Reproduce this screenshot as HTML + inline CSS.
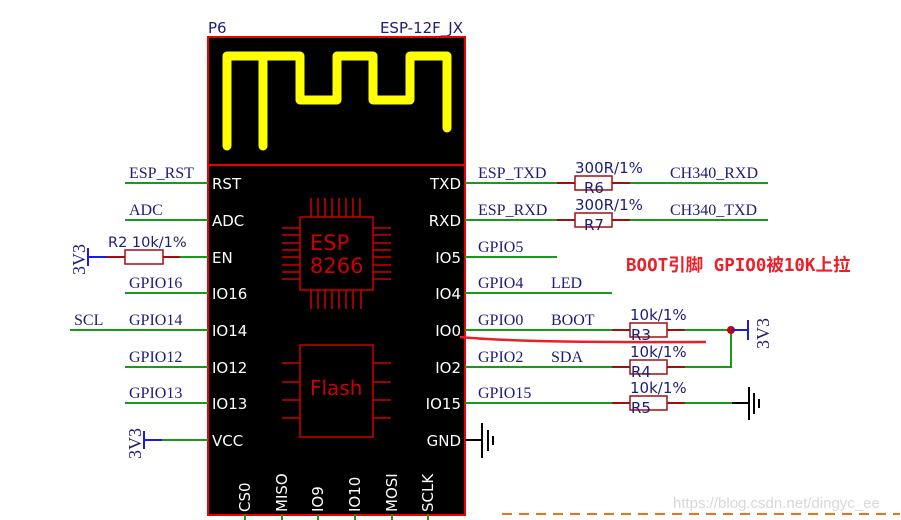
<!DOCTYPE html>
<html><head><meta charset="utf-8"><style>
html,body{margin:0;padding:0;background:#fff;}
svg{display:block;}
.s{font-family:"Liberation Serif",serif;font-size:16px;fill:#1c1c7a;}
.w{font-family:"DejaVu Sans","Liberation Sans",sans-serif;font-size:15px;fill:#fff;}
.b{font-family:"DejaVu Sans","Liberation Sans",sans-serif;font-size:14.5px;fill:#1c1c7a;}
</style></head><body>
<svg width="901" height="520" viewBox="0 0 901 520" xmlns="http://www.w3.org/2000/svg">
<rect width="901" height="520" fill="#fff"/>
<text x="208" y="33" class="b" style="font-size:15px">P6</text>
<text x="463" y="33" class="b" text-anchor="end" style="font-size:15px">ESP-12F_JX</text>
<rect x="208" y="37" width="257" height="478" fill="#000" stroke="#e00" stroke-width="2"/>
<line x1="208" y1="165" x2="465" y2="165" stroke="#e00" stroke-width="2"/>
<path d="M227,146 V56 H300 V100 H337 V56 H373 V100 H410 V56 H447 V128 M263,56 V146" fill="none" stroke="#ff0" stroke-width="9" stroke-linecap="round" stroke-linejoin="round"/>
<g stroke="#c00" stroke-width="1.5" fill="none">
<rect x="300" y="217" width="73" height="73"/>
<path d="M311,198V217M318,198V217M325,198V217M332,198V217M339,198V217M346,198V217M353,198V217M360,198V217
M311,290V309M318,290V309M325,290V309M332,290V309M339,290V309M346,290V309M353,290V309M361,290V309
M282,228H300M282,235H300M282,243H300M282,250H300M282,257H300M282,265H300M282,272H300M282,279H300
M373,228H391M373,235H391M373,243H391M373,250H391M373,257H391M373,265H391M373,272H391M373,279H391"/>
<rect x="300" y="345" width="73" height="92"/>
<path d="M282,363H300M282,382H300M282,400H300M282,418H300M373,363H391M373,382H391M373,400H391M373,418H391"/>
</g>
<text x="310" y="250" font-family="DejaVu Sans,sans-serif" font-size="21" fill="#c00">ESP</text>
<text x="310" y="273" font-family="DejaVu Sans,sans-serif" font-size="21" fill="#c00">8266</text>
<text x="310" y="395" font-family="DejaVu Sans,sans-serif" font-size="20" fill="#c00">Flash</text>
<g stroke="#1a9a1a" stroke-width="2">
<line x1="125" y1="183" x2="208" y2="183"/><line x1="125" y1="220" x2="208" y2="220"/>
<line x1="180" y1="257" x2="208" y2="257"/><line x1="125" y1="293" x2="208" y2="293"/>
<line x1="70" y1="330" x2="208" y2="330"/><line x1="125" y1="367" x2="208" y2="367"/>
<line x1="125" y1="403" x2="208" y2="403"/><line x1="162" y1="440" x2="208" y2="440"/>
</g>
<text x="212" y="189" class="w">RST</text><text x="212" y="226" class="w">ADC</text>
<text x="212" y="263" class="w">EN</text><text x="212" y="299" class="w">IO16</text>
<text x="212" y="336" class="w">IO14</text><text x="212" y="373" class="w">IO12</text>
<text x="212" y="409" class="w">IO13</text><text x="212" y="446" class="w">VCC</text>
<text x="129" y="178" class="s">ESP_RST</text><text x="129" y="215" class="s">ADC</text>
<text x="129" y="288" class="s">GPIO16</text><text x="74" y="325" class="s">SCL</text>
<text x="129" y="325" class="s">GPIO14</text><text x="129" y="362" class="s">GPIO12</text>
<text x="129" y="398" class="s">GPIO13</text>
<path d="M107,257H125M163,257H180" stroke="#a01010" stroke-width="2"/>
<rect x="125" y="250" width="38" height="14" fill="#fff" stroke="#a01010" stroke-width="1.5"/>
<text x="108" y="247" class="b">R2 10k/1%</text>
<path d="M88,257H107M88,248V266" stroke="#1a1aee" stroke-width="2"/>
<text transform="translate(85,275) rotate(-90)" class="s" style="font-size:18px">3V3</text>
<path d="M144,440H162M144,431V449" stroke="#1a1aee" stroke-width="2"/>
<text transform="translate(141,459) rotate(-90)" class="s" style="font-size:18px">3V3</text>
<text x="461" y="189" class="w" text-anchor="end">TXD</text><text x="461" y="226" class="w" text-anchor="end">RXD</text>
<text x="461" y="263" class="w" text-anchor="end">IO5</text><text x="461" y="299" class="w" text-anchor="end">IO4</text>
<text x="461" y="336" class="w" text-anchor="end">IO0</text><text x="461" y="373" class="w" text-anchor="end">IO2</text>
<text x="461" y="409" class="w" text-anchor="end">IO15</text><text x="461" y="446" class="w" text-anchor="end">GND</text>
<g stroke="#1a9a1a" stroke-width="2" fill="none">
<path d="M465,183H557M630,183H768M465,220H557M630,220H768M465,257H557M465,293H612"/>
<path d="M465,330H612M685,330H731M465,367H612M685,367H731V330M465,403H612M685,403H732"/>
</g>
<g stroke="#a01010" stroke-width="2">
<path d="M557,183H575M612,183H630M557,220H575M612,220H630M612,330H630M667,330H685M612,367H630M667,367H685M612,403H630M667,403H685"/>
</g>
<g fill="#fff" stroke="#a01010" stroke-width="1.5">
<rect x="575" y="176" width="37" height="14"/><rect x="575" y="213" width="37" height="14"/>
<rect x="630" y="323" width="37" height="14"/><rect x="630" y="360" width="37" height="14"/><rect x="630" y="396" width="37" height="14"/>
</g>
<g class="b" style="font-size:15px">
<text x="575" y="173">300R/1%</text><text x="584" y="193">R6</text>
<text x="575" y="210">300R/1%</text><text x="584" y="230">R7</text>
<text x="630" y="320">10k/1%</text><text x="631" y="340">R3</text>
<text x="630" y="357">10k/1%</text><text x="631" y="377">R4</text>
<text x="630" y="393">10k/1%</text><text x="631" y="413">R5</text>
</g>
<text x="478" y="178" class="s">ESP_TXD</text><text x="670" y="178" class="s">CH340_RXD</text>
<text x="478" y="215" class="s">ESP_RXD</text><text x="670" y="215" class="s">CH340_TXD</text>
<text x="478" y="252" class="s">GPIO5</text>
<text x="478" y="288" class="s">GPIO4</text><text x="551" y="288" class="s">LED</text>
<text x="478" y="325" class="s">GPIO0</text><text x="551" y="325" class="s">BOOT</text>
<text x="478" y="362" class="s">GPIO2</text><text x="551" y="362" class="s">SDA</text>
<text x="478" y="398" class="s">GPIO15</text>
<circle cx="731" cy="330" r="4" fill="#c00"/>
<path d="M731,330H748M748,320V340" stroke="#1a1aee" stroke-width="2"/>
<text transform="translate(769,349) rotate(-90)" class="s" style="font-size:18px">3V3</text>
<path d="M732,403H749M749,387V420M754,393V414M759,399V408" stroke="#000" stroke-width="2"/>
<path d="M465,440H482M482,423V458M488,430V451M493,436V445" stroke="#000" stroke-width="2"/>
<path d="M460,337 Q520,343 706,342" stroke="#e8202a" stroke-width="2.5" fill="none"/>
<text x="626" y="271" font-family="DejaVu Sans Mono,'Noto Sans CJK SC',monospace" font-weight="bold" font-size="17.5" fill="#e8202a">BOOT引脚 GPIO0被10K上拉</text>
<g stroke="#1a9a1a" stroke-width="2">
<path d="M245,514V520M282,514V520M318,514V520M355,514V520M392,514V520M428,514V520"/>
</g>
<g class="w">
<text transform="translate(250,512) rotate(-90)">CS0</text>
<text transform="translate(287,512) rotate(-90)">MISO</text>
<text transform="translate(323,512) rotate(-90)">IO9</text>
<text transform="translate(360,512) rotate(-90)">IO10</text>
<text transform="translate(397,512) rotate(-90)">MOSI</text>
<text transform="translate(433,512) rotate(-90)">SCLK</text>
</g>
<line x1="502" y1="514" x2="900" y2="514" stroke="#f07020" stroke-width="2" stroke-dasharray="10,7"/>
<text x="673" y="508" font-family="Liberation Sans,sans-serif" font-size="15" fill="#d8d8d8">https://blog.csdn.net/dingyc_ee</text>
</svg>
</body></html>
